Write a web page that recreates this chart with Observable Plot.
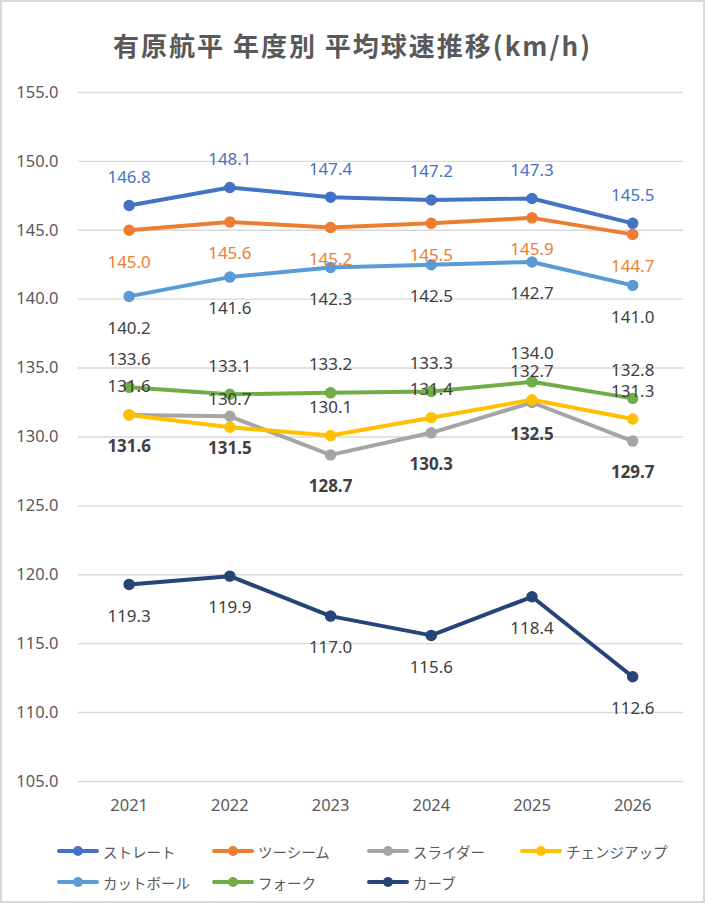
<!DOCTYPE html>
<html><head><meta charset="utf-8">
<script src="https://cdn.jsdelivr.net/npm/d3@7"></script>
<script src="https://cdn.jsdelivr.net/npm/@observablehq/plot@0.6"></script>
<style>
body{margin:0;background:#fff;}
#wrap{position:relative;width:705px;height:903px;box-sizing:border-box;border:2px solid #d9d9d9;background:#fff;font-family:"Noto Sans","Noto Sans CJK JP",sans-serif;overflow:hidden;}
#title{position:absolute;left:0;top:26px;width:100%;text-align:center;font-weight:bold;font-size:26px;font-family:"Noto Sans CJK JP","Noto Sans",sans-serif;color:#595959;letter-spacing:2px;line-height:34px;}
#chart{position:absolute;left:-2px;top:70px;}
.lg{position:absolute;height:20px;display:flex;align-items:center;font-size:14.5px;font-family:"Noto Sans CJK JP",sans-serif;color:#595959;white-space:nowrap;}
.lg svg{margin-right:4px;}
</style></head>
<body>
<div id="wrap">
<div id="title">有原航平 年度別 平均球速推移(km/h)</div>
<div id="chart"></div>
<div id="legend"></div>
</div>
<script>
const years = ["2021","2022","2023","2024","2025","2026"];
const seriesNames = ["ストレート","ツーシーム","スライダー","チェンジアップ","カットボール","フォーク","カーブ"];
const straight = [146.8,148.1,147.4,147.2,147.3,145.5];
const twoSeam  = [145.0,145.6,145.2,145.5,145.9,144.7];
const slider   = [131.6,131.5,128.7,130.3,132.5,129.7];
const changeup = [131.6,130.7,130.1,131.4,132.7,131.3];
const cutter   = [140.2,141.6,142.3,142.5,142.7,141.0];
const fork     = [133.6,133.1,133.2,133.3,134.0,132.8];
const curve    = [119.3,119.9,117.0,115.6,118.4,112.6];
const yTicks = [105,110,115,120,125,130,135,140,145,150,155];

const valuesList = [straight,twoSeam,slider,changeup,cutter,fork,curve];
const colors = ["#4472C4","#ED7D31","#A5A5A5","#FFC000","#5B9BD5","#70AD47","#264478"];
const labelPos = ["above","below","below","above","below","above","below"];
const labelColors = ["#4472C4","#ED7D31","#404040","#404040","#404040","#404040","#404040"];
const labelWeights = ["normal","normal","bold","normal","normal","normal","normal"];

const seriesData = seriesNames.map((name,i)=>valuesList[i].map((v,j)=>({series:name,year:years[j],value:v})));

const marks = [
  Plot.ruleY(yTicks,{stroke:"#d9d9d9",strokeWidth:1.4}),
  Plot.axisY(yTicks,{tickFormat:d=>d.toFixed(1),tickSize:0,tickPadding:20,fontSize:16.5,fill:"#595959",label:null}),
  Plot.axisX(years,{tickSize:0,tickPadding:18,fontSize:16.5,fill:"#595959",label:null})
];
seriesData.forEach((rows,i)=>{
  marks.push(Plot.line(rows,{x:"year",y:"value",stroke:colors[i],strokeWidth:4,strokeLinejoin:"round",strokeLinecap:"round"}));
  marks.push(Plot.dot(rows,{x:"year",y:"value",fill:colors[i],stroke:colors[i],r:5}));
});
seriesData.forEach((rows,i)=>{
  marks.push(Plot.text(rows,{x:"year",y:"value",text:d=>d.value.toFixed(1),dy:labelPos[i]==="above"?-28:32,fill:labelColors[i],fontWeight:labelWeights[i],fontSize:17}));
});

const chart = Plot.plot({
  width:705,height:756,
  marginLeft:78,marginRight:20,marginTop:20,marginBottom:45,
  x:{type:"point",domain:years,padding:0.5},
  y:{domain:[105,155]},
  style:{fontSize:"16px",color:"#595959",fontFamily:'"Noto Sans","Noto Sans CJK JP",sans-serif',background:"transparent",overflow:"visible"},
  marks
});
document.getElementById("chart").appendChild(chart);

const legendPos = [[55,839],[210,839],[365,839],[518,839],[55,870],[210,870],[365,870]];
const legend = document.getElementById("legend");
seriesNames.forEach((name,i)=>{
  const d = document.createElement("div");
  d.className="lg";
  d.style.left=legendPos[i][0]+"px";
  d.style.top=legendPos[i][1]+"px";
  d.innerHTML=`<svg width="42" height="14"><line x1="2" y1="7" x2="40" y2="7" stroke="${colors[i]}" stroke-width="4" stroke-linecap="round"/><circle cx="21" cy="7" r="5" fill="${colors[i]}"/></svg><span>${name}</span>`;
  legend.appendChild(d);
});
</script>
</body></html>
